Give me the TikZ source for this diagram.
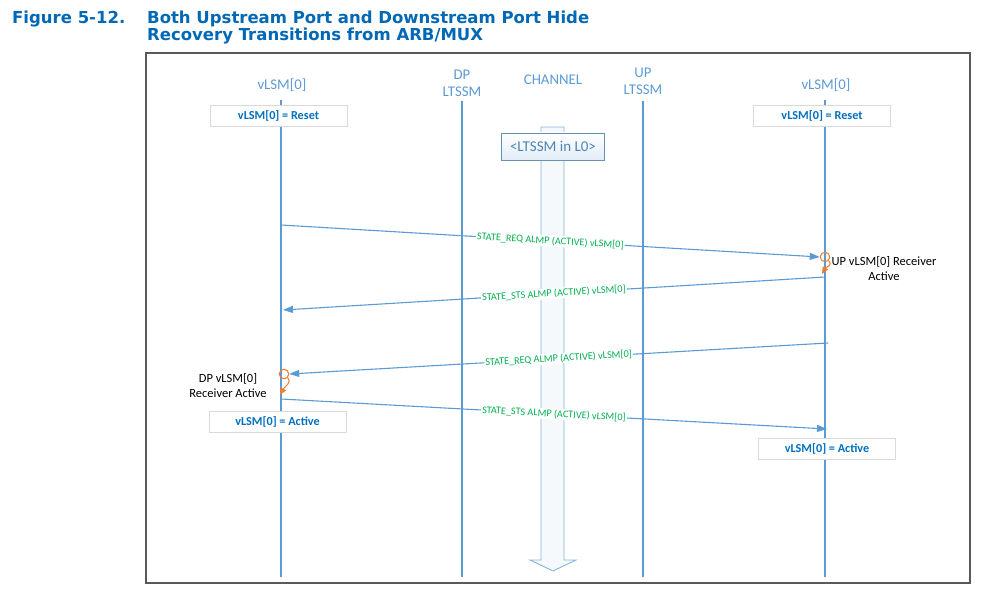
\documentclass[tikz,border=0pt]{standalone}
\usepackage{fontspec}
\setmainfont{Carlito}
\newfontfamily\titlefont{DejaVu Sans}
\usepackage{pgf,tikz}
\usetikzlibrary{arrows.meta}

\definecolor{titleblue}{HTML}{0068B5}
\definecolor{lineblue}{HTML}{5B9BD5}
\definecolor{boxblue}{HTML}{0070C0}
\definecolor{msggreen}{HTML}{00B050}
\definecolor{looporange}{HTML}{ED7D31}
\definecolor{framegray}{HTML}{595959}

\begin{document}
\begin{tikzpicture}[x=1pt,y=-1pt,
  figtitle/.style={anchor=base west,text=titleblue,inner sep=0pt,font=\titlefont\bfseries\fontsize{16.5}{18}\selectfont},
  head/.style={text=lineblue,align=center,font=\fontsize{14.8}{17}\selectfont},
  life/.style={lineblue,line width=1.1pt},
  statebox/.style={draw=black!15,fill=white,text=boxblue,inner sep=0pt,minimum width=137pt,minimum height=21pt,font=\fontsize{12.2}{14}\selectfont\bfseries},
  msg/.style={lineblue,line width=1.1pt,-{Triangle[length=10pt,width=7pt]}},
  msglabel/.style={text=msggreen,fill=white,inner sep=1pt,sloped,font=\fontsize{10.2}{11}\selectfont},
  rcv/.style={circle,draw=looporange,line width=1pt,minimum size=9.5pt,inner sep=0pt},
  turn/.style={looporange,line width=1pt,-{Triangle[length=7pt,width=6pt]}},
  note/.style={align=center,font=\fontsize{12.5}{15}\selectfont}]

\useasboundingbox (0,0) rectangle (999,593);

% title
\node[figtitle] (fignum) at (12,24) {Figure 5-12.};
\node[figtitle] (title1) at (147,24) {Both Upstream Port and Downstream Port Hide};
\node[figtitle] (title2) at (147,41) {Recovery Transitions from ARB/MUX};

\draw[framegray,line width=1.3pt] (146,53) rectangle (970,583);

% lifelines
\node[head] (dpvlsm) at (282,85) {vLSM[0]};
\node[head] (dpltssm) at (462,83.5) {DP\\LTSSM};
\node[head] (channel) at (553,80) {CHANNEL};
\node[head] (upltssm) at (643,81.5) {UP\\LTSSM};
\node[head] (upvlsm) at (826,85) {vLSM[0]};

\coordinate (dpvtop) at (281,100);
\coordinate (dpvbot) at (281,577);
\coordinate (dpltop) at (462,101);
\coordinate (dplbot) at (462,577);
\coordinate (upltop) at (643,101);
\coordinate (uplbot) at (643,577);
\coordinate (upvtop) at (825,100);
\coordinate (upvbot) at (825,577);

\draw[life] (dpvtop) -- (dpvbot);
\draw[life] (dpltop) -- (dplbot);
\draw[life] (upltop) -- (uplbot);
\draw[life] (upvtop) -- (upvbot);

% channel bar
\filldraw[draw=lineblue!75,fill=lineblue!6,line width=0.9pt] (541,127) -- (564,127) -- (564,560) -- (576,560)
  -- (553,571) -- (530,560) -- (541,560) -- cycle;
\node[draw=lineblue!60!gray,top color=white,bottom color=lineblue!18,minimum width=103pt,minimum height=27pt,inner sep=0pt,
  text=lineblue!85!black,font=\fontsize{15}{17}\selectfont] (inlzero) at (553,146.5) {<LTSSM in L0>};

% state boxes
\node[statebox] (dpreset) at (278.5,115.5) {vLSM[0] = Reset};
\node[statebox] (upreset) at (822,115.5) {vLSM[0] = Reset};
\node[statebox] (dpactive) at (277.5,421.5) {vLSM[0] = Active};
\node[statebox] (upactive) at (827,448.5) {vLSM[0] = Active};

% receiver active loops
\node[rcv] (uprcv) at (825,257) {};
\node[rcv] (dprcv) at (284,374) {};
\coordinate (upturn) at (822,274);
\coordinate (dpturn) at (280,395);
\draw[turn] (uprcv.south east) .. controls (833,266) and (826,267) .. (upturn);
\draw[turn] (dprcv.south east) .. controls (292,383) and (285,386) .. (dpturn);
\node[note] (upnote) at (884,269) {UP vLSM[0] Receiver\\Active};
\node[note] (dpnote) at (228,385.5) {DP vLSM[0]\\Receiver Active};

% messages
\coordinate (reqdp) at (281,225);
\coordinate (stsup) at (825,277);
\coordinate (stsdp) at (283,310);
\coordinate (requp) at (828,343);
\coordinate (actdp) at (281,399);
\coordinate (actup) at (827,429);

\draw[msg] (reqdp) -- node[msglabel] {STATE\_REQ ALMP (ACTIVE) vLSM[0]} (uprcv.west);
\draw[msg] (stsup) -- node[msglabel] {STATE\_STS ALMP (ACTIVE) vLSM[0]} (stsdp);
\draw[msg] (requp) -- node[msglabel] {STATE\_REQ ALMP (ACTIVE) vLSM[0]} (dprcv.east);
\draw[msg] (actdp) -- node[msglabel] {STATE\_STS ALMP (ACTIVE) vLSM[0]} (actup);
\end{tikzpicture}
\end{document}
